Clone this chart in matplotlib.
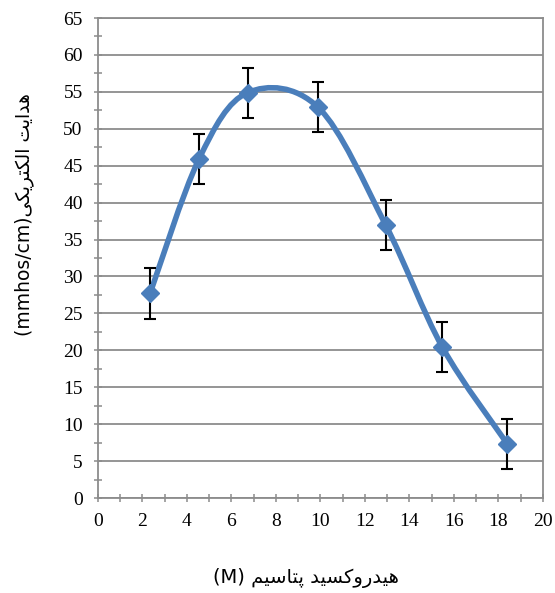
import matplotlib
matplotlib.use("Agg")
import matplotlib.pyplot as plt
from matplotlib.path import Path
from matplotlib.patches import PathPatch
from matplotlib.ticker import MultipleLocator
import numpy as np

# ---- data ----
koh = [2.34, 4.54, 6.73, 9.90, 12.93, 15.49, 18.41]
conductivity = [27.7, 45.9, 54.9, 52.9, 37.0, 20.4, 7.3]
error = [3.4, 3.4, 3.4, 3.4, 3.4, 3.4, 3.4]
x_ticks = [0, 2, 4, 6, 8, 10, 12, 14, 16, 18, 20]
y_ticks = [0, 5, 10, 15, 20, 25, 30, 35, 40, 45, 50, 55, 60, 65]
x_label_fa = "هیدروکسید پتاسیم"
x_label_unit = "(M)"
y_label_fa = "هدایت الکتریکی"
y_label_unit = "(mmhos/cm)"

# ---- minimal Arabic/Persian shaping (presentation forms) ----
FORMS = {  # isolated, final, initial, medial
    "\u0647": ("\uFEE9", "\uFEEA", "\uFEEB", "\uFEEC"),
    "\u062F": ("\uFEA9", "\uFEAA", None, None),
    "\u0627": ("\uFE8D", "\uFE8E", None, None),
    "\u06CC": ("\uFBFC", "\uFBFD", "\uFBFE", "\uFBFF"),
    "\u062A": ("\uFE95", "\uFE96", "\uFE97", "\uFE98"),
    "\u0644": ("\uFEDD", "\uFEDE", "\uFEDF", "\uFEE0"),
    "\u06A9": ("\uFB8E", "\uFB8F", "\uFB90", "\uFB91"),
    "\u0631": ("\uFEAD", "\uFEAE", None, None),
    "\u0648": ("\uFEED", "\uFEEE", None, None),
    "\u0633": ("\uFEB1", "\uFEB2", "\uFEB3", "\uFEB4"),
    "\u067E": ("\uFB56", "\uFB57", "\uFB58", "\uFB59"),
    "\u0645": ("\uFEE1", "\uFEE2", "\uFEE3", "\uFEE4"),
}


def dual(c):
    return c in FORMS and FORMS[c][2] is not None


def shape_rtl(s):
    out = []
    for i, c in enumerate(s):
        if c not in FORMS:
            out.append(c)
            continue
        prev = s[i - 1] if i > 0 else ""
        nxt = s[i + 1] if i + 1 < len(s) else ""
        join_prev = dual(prev)
        join_next = dual(c) and nxt in FORMS
        f = FORMS[c]
        if join_prev and join_next:
            g = f[3]
        elif join_prev:
            g = f[1]
        elif join_next:
            g = f[2]
        else:
            g = f[0]
        out.append(g)
    return "".join(reversed(out))


plt.rcParams["font.family"] = ["DejaVu Sans"]

fig = plt.figure(figsize=(5.55, 5.93), dpi=100)
ax = fig.add_axes([0.1766, 0.1602, 0.8014, 0.8094])

grid_c = "#8c8c8c"
blue = "#4a7ebb"

ax.set_xlim(0, 20)
ax.set_ylim(0, 65)
ax.set_xticks(x_ticks)
ax.set_yticks(y_ticks)
ax.xaxis.set_minor_locator(MultipleLocator(1))
ax.yaxis.set_minor_locator(MultipleLocator(2.5))
ax.yaxis.grid(True, color=grid_c, lw=1.3)
ax.set_axisbelow(True)
for s in ax.spines.values():
    s.set_color(grid_c)
    s.set_linewidth(1.3)
ax.tick_params(which="both", direction="inout", length=6, width=1.1, color=grid_c,
               labelsize=14, labelcolor="black")
ax.tick_params(axis="y", pad=8)
ax.tick_params(axis="x", pad=8)
for lab in ax.get_xticklabels() + ax.get_yticklabels():
    lab.set_fontfamily("Liberation Serif")

# smooth (Excel-like) curve through the points
P = np.column_stack([koh, conductivity])
n = len(P)
verts = [tuple(P[0])]
codes = [Path.MOVETO]
for i in range(n - 1):
    p0 = P[i - 1] if i > 0 else P[i]
    p1 = P[i]
    p2 = P[i + 1]
    p3 = P[i + 2] if i + 2 < n else P[i + 1]
    c1 = p1 + (p2 - p0) / 6.0
    c2 = p2 - (p3 - p1) / 6.0
    verts += [tuple(c1), tuple(c2), tuple(p2)]
    codes += [Path.CURVE4] * 3
ax.add_patch(PathPatch(Path(verts, codes), facecolor="none", edgecolor=blue,
                       lw=4.0, capstyle="round", zorder=3))

ax.errorbar(koh, conductivity, yerr=error, fmt="none", ecolor="black",
            elinewidth=1.5, capsize=4.5, capthick=1.5, zorder=4)
ax.plot(koh, conductivity, linestyle="none", marker="D", ms=9.5,
        color=blue, zorder=5)

ax.set_xlabel(x_label_unit + " " + shape_rtl(x_label_fa), fontsize=14)
ax.xaxis.set_label_coords(0.467, -0.167)
ax.xaxis.label.set_va("center")
ax.set_ylabel(y_label_unit + shape_rtl(y_label_fa), fontsize=13.5)
ax.yaxis.set_label_coords(-0.166, 0.59)
ax.yaxis.label.set_va("center")

fig.savefig("out.png", dpi=100)
